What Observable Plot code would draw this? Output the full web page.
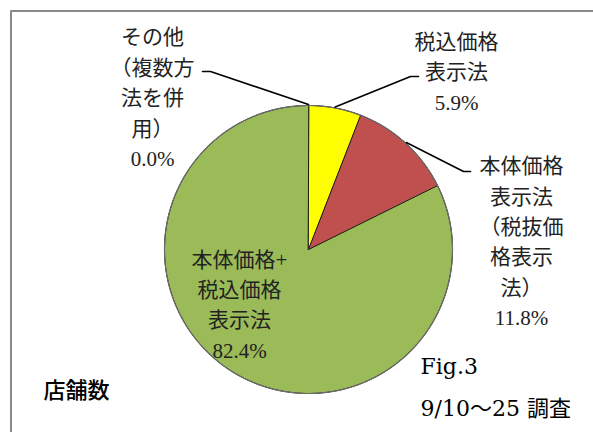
<!DOCTYPE html>
<html><head><meta charset="utf-8">
<script src="https://cdn.jsdelivr.net/npm/d3@7"></script>
<script src="https://cdn.jsdelivr.net/npm/@observablehq/plot@0.6"></script>
<style>
html,body{margin:0;padding:0;background:#fff}
#chart svg{display:block}
</style>
</head><body><div id="chart"></div>
<script>
// ---- data ----
const categories = ["税込価格表示法", "本体価格表示法（税抜価格表示法）", "本体価格+税込価格表示法", "その他（複数方法を併用）"];
const labelTexts = ["税込価格\n表示法", "本体価格\n表示法\n（税抜価\n格表示\n法）", "本体価格+\n税込価格\n表示法", "その他\n（複数方\n法を併\n用）"];
const shares = [5.9, 11.8, 82.4, 0.0];
const percentLabels = ["5.9%", "11.8%", "82.4%", "0.0%"];
const unitLabel = "店舗数";
const figLabel = "Fig.3";
const surveyLabel = "9/10～25 調査";

// ---- layout / style ----
const W = 593, H = 432, CX = 308, CY = 249, R = 144;
const colors = ["#FFFF00", "#C0504D", "#9BBB59", "#4F81BD"];
const labelPos = [{x: 456, y: 69}, {x: 521, y: 239}, {x: 239, y: 302}, {x: 152, y: 95}];
const elbows = [[[410, 76], [418, 76]], [[463, 171], [470, 171]], null, [[210, 71], [202, 71]]];
const labelFont = "'Liberation Serif', 'Times New Roman', 'DejaVu Serif', 'Noto Sans CJK JP', serif";
const figFont = "'DejaVu Serif', 'Noto Sans CJK JP', serif";
const unitFont = "'Noto Sans CJK JP', sans-serif";

const arcs = d3.pie().sort(null).value(d => d)(shares);
const pt = (a, r = R) => ({x: CX + r * Math.sin(a), y: CY - r * Math.cos(a)});

const sliceMarks = [];
arcs.forEach((a, i) => {
  if (a.endAngle - a.startAngle <= 0) return;
  const pts = [{x: CX, y: CY}];
  const n = Math.max(2, Math.ceil((a.endAngle - a.startAngle) / (Math.PI / 180)));
  for (let k = 0; k <= n; k++) pts.push(pt(a.startAngle + (a.endAngle - a.startAngle) * k / n));
  sliceMarks.push(Plot.line(pts, {x: "x", y: "y", curve: "linear-closed", fill: colors[i], stroke: "#1a1a1a", strokeWidth: 1}));
});
const rim = d3.range(0, 361).map(d => pt(d * Math.PI / 180));
const rimMark = Plot.line(rim, {x: "x", y: "y", stroke: "#6b6b6b", strokeWidth: 1.2});

const leaders = [];
arcs.forEach((a, i) => {
  if (!elbows[i]) return;
  const mid = (a.startAngle + a.endAngle) / 2;
  const start = pt(mid, R + 1);
  const path = [start, {x: elbows[i][0][0], y: elbows[i][0][1]}, {x: elbows[i][1][0], y: elbows[i][1][1]}];
  leaders.push(Plot.line(path, {x: "x", y: "y", stroke: "#000", strokeWidth: 1.6}));
});

const labelData = categories.map((c, i) => ({
  x: labelPos[i].x, y: labelPos[i].y, text: labelTexts[i] + "\n" + percentLabels[i]
}));

const chart = Plot.plot({
  width: W, height: H,
  margin: 0,
  x: {domain: [0, W], range: [0, W], axis: null},
  y: {domain: [0, H], range: [0, H], axis: null},
  marks: [
    Plot.ruleX([10.5], {y1: 10.5, y2: H, stroke: "#8a8a8a", strokeWidth: 2}),
    Plot.ruleY([10.5], {x1: 10.5, x2: W, stroke: "#8a8a8a", strokeWidth: 2}),
    ...sliceMarks,
    rimMark,
    ...leaders,
    Plot.text(labelData, {x: "x", y: "y", text: "text", fontSize: 21, lineHeight: 1.45,
      textAnchor: "middle", lineAnchor: "middle", fill: "#222"}),
    Plot.text([unitLabel], {x: 43, y: 390, text: d => d, textAnchor: "start", fontSize: 22, fill: "#000", fontWeight: 500}),
    Plot.text([figLabel], {x: 420, y: 366, text: d => d, textAnchor: "start", fontSize: 22, fill: "#000"}),
    Plot.text([surveyLabel], {x: 420, y: 408, text: d => d, textAnchor: "start", fontSize: 22, fill: "#000"})
  ]
});
const textGroups = chart.querySelectorAll('g[aria-label="text"]');
const fams = [labelFont, unitFont, figFont, figFont];
textGroups.forEach((g, i) => {
  g.style.fontFamily = fams[i];
  g.querySelectorAll("text, tspan").forEach(t => t.style.fontFamily = fams[i]);
});
document.getElementById("chart").append(chart);
</script>
</body></html>
